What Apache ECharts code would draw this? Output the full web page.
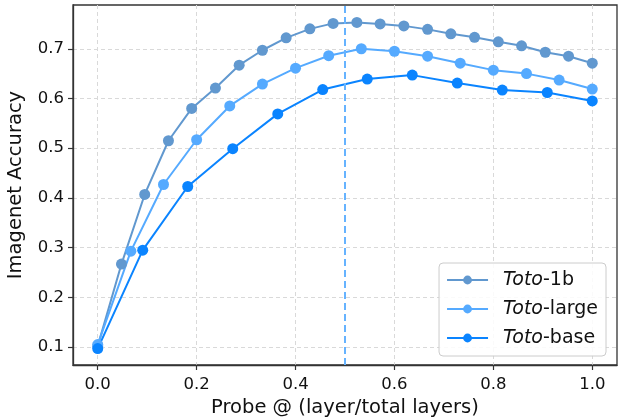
<!DOCTYPE html>
<html>
<head>
<meta charset="utf-8">
<script src="https://cdn.jsdelivr.net/npm/echarts@6/dist/echarts.min.js"></script>
<style>
html,body{margin:0;padding:0;background:#fff;}
#chart{width:619px;height:418px;}
</style>
</head>
<body>
<div id="chart"></div>
<script>
// Data
var seriesNames = ['Toto-1b', 'Toto-large', 'Toto-base'];

var x1b = [0, 0.048, 0.095, 0.143, 0.190, 0.238, 0.286, 0.333, 0.381, 0.429, 0.476,
           0.524, 0.571, 0.619, 0.667, 0.714, 0.762, 0.810, 0.857, 0.905, 0.952, 1.0];
var y1b = [0.102, 0.267, 0.407, 0.515, 0.580, 0.621, 0.667, 0.697, 0.722, 0.740, 0.751,
           0.753, 0.750, 0.746, 0.739, 0.730, 0.723, 0.714, 0.706, 0.693, 0.685, 0.671];

var xLarge = [0, 0.067, 0.133, 0.200, 0.267, 0.333, 0.400, 0.467, 0.533, 0.600, 0.667,
              0.733, 0.800, 0.867, 0.933, 1.0];
var yLarge = [0.105, 0.293, 0.427, 0.517, 0.585, 0.629, 0.661, 0.686, 0.700, 0.695, 0.685,
              0.671, 0.657, 0.650, 0.637, 0.619];

var xBase = [0, 0.091, 0.182, 0.273, 0.364, 0.455, 0.545, 0.636, 0.727, 0.818, 0.909, 1.0];
var yBase = [0.097, 0.295, 0.423, 0.499, 0.569, 0.618, 0.639, 0.647, 0.631, 0.617, 0.612, 0.595];

var xTicks = [0, 0.2, 0.4, 0.6, 0.8, 1.0];
var yTicks = [0.1, 0.2, 0.3, 0.4, 0.5, 0.6, 0.7];
var probeLine = 0.5;

var colors = ['#6198cf', '#55aaff', '#0a84ff'];

function zip(xs, ys) {
  return xs.map(function (x, i) { return [x, ys[i]]; });
}

var FONT = 'DejaVu Sans';
var axisColor = '#333333';
var gridColor = '#d9d9d9';

var chart = echarts.init(document.getElementById('chart'), null, {renderer: 'canvas'});

function mkSeries(name, data, color, extra) {
  var s = {
    name: name,
    type: 'line',
    data: data,
    symbol: 'circle',
    symbolSize: 11,
    showSymbol: true,
    lineStyle: {color: color, width: 2},
    itemStyle: {color: color},
    emphasis: {disabled: true},
    animation: false,
    z: 3
  };
  if (extra) for (var k in extra) s[k] = extra[k];
  return s;
}

var option = {
  animation: false,
  backgroundColor: '#ffffff',
  grid: {
    left: 73, right: 2, top: 5, bottom: 53,
    outerBoundsMode: 'none',
    containLabel: false,
    show: true, borderColor: axisColor, borderWidth: 1.3, backgroundColor: 'transparent'
  },
  xAxis: {
    type: 'value',
    min: -0.05, max: 1.05,
    name: 'Probe @ (layer/total layers)',
    nameLocation: 'middle',
    nameGap: 32,
    nameTextStyle: {fontFamily: FONT, fontSize: 19.5, color: '#111'},
    axisLine: {show: true, onZero: false, lineStyle: {color: axisColor, width: 1.3}},
    axisTick: {show: true, inside: false, length: 5, customValues: xTicks, lineStyle: {color: axisColor, width: 1.2}},
    axisLabel: {show: true, margin: 11, customValues: xTicks, fontFamily: FONT, fontSize: 16.5, color: '#111',
      formatter: function (v) { return v.toFixed(1); }},
    splitLine: {show: true, lineStyle: {color: gridColor, type: [4, 3], width: 1}}
  },
  yAxis: {
    type: 'value',
    min: 0.064, max: 0.788,
    name: 'Imagenet Accuracy',
    nameLocation: 'middle',
    nameGap: 47,
    nameTextStyle: {fontFamily: FONT, fontSize: 19.5, color: '#111'},
    axisLine: {show: true, onZero: false, lineStyle: {color: axisColor, width: 1.3}},
    axisTick: {show: true, inside: false, length: 5, customValues: yTicks, lineStyle: {color: axisColor, width: 1.2}},
    axisLabel: {show: true, margin: 9, customValues: yTicks, fontFamily: FONT, fontSize: 16.5, color: '#111',
      formatter: function (v) { return v.toFixed(1); }},
    splitLine: {show: true, lineStyle: {color: gridColor, type: [4, 3], width: 1}}
  },
  legend: {
    orient: 'vertical',
    right: 13, bottom: 62,
    data: seriesNames,
    itemWidth: 41, itemHeight: 11,
    itemGap: 7,
    padding: [6, 8, 7, 7],
    backgroundColor: 'rgba(255,255,255,0.85)',
    borderColor: '#cccccc', borderWidth: 1, borderRadius: 4,
    selectedMode: false,
    formatter: function (name) {
      var parts = name.split('-');
      return '{i|' + parts[0] + '}{n|-' + parts.slice(1).join('-') + '}';
    },
    textStyle: {
      fontFamily: FONT, fontSize: 19, color: '#111', lineHeight: 22,
      padding: [0, 0, 0, 10],
      rich: {
        i: {fontFamily: FONT, fontSize: 19, fontStyle: 'italic', color: '#111', lineHeight: 22},
        n: {fontFamily: FONT, fontSize: 19, color: '#111', lineHeight: 22}
      }
    }
  },
  series: [
    mkSeries(seriesNames[0], zip(x1b, y1b), colors[0], {
      markLine: {
        silent: true,
        symbol: ['none', 'none'],
        label: {show: false},
        lineStyle: {color: '#66b3ff', type: [7, 4], width: 2},
        data: [{xAxis: probeLine}],
        animation: false
      }
    }),
    mkSeries(seriesNames[1], zip(xLarge, yLarge), colors[1]),
    mkSeries(seriesNames[2], zip(xBase, yBase), colors[2])
  ]
};

chart.setOption(option);
</script>
</body>
</html>
